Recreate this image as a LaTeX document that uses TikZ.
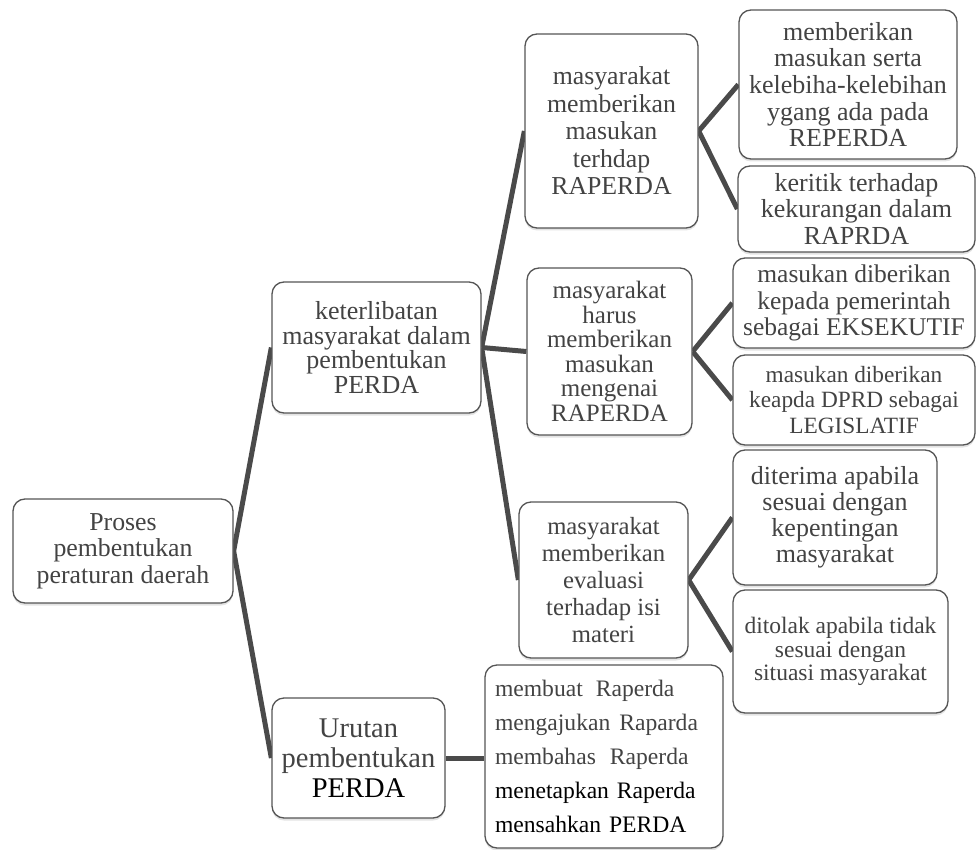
\documentclass[tikz,border=0pt]{standalone}
\usepackage{fontspec}
\setmainfont{Liberation Serif}
\usetikzlibrary{shadows,backgrounds}
\definecolor{txt}{HTML}{434343}
\definecolor{edgec}{HTML}{555555}
\definecolor{connc}{HTML}{4A4A4A}
\begin{document}
\begin{tikzpicture}[x=1pt,y=-1pt,
  box/.style={draw=edgec, line width=1.3pt, rounded corners=12pt, fill=white,
    align=center, inner sep=0pt, text=txt,
    drop shadow={shadow xshift=0pt, shadow yshift=-2.5pt, opacity=0.22}},
  connector/.style={draw=connc, line width=5pt},
  fs/.style 2 args={font=\fontsize{#1}{#2}\selectfont},
]
\useasboundingbox (0,0) rectangle (976,850);

% level 0
\node[box, fs={25.8}{26.7}, minimum width=220pt, minimum height=104pt] (proses) at (123,551)
  {Proses\\pembentukan\\peraturan daerah};

% level 1
\node[box, fs={26}{24.5}, minimum width=209pt, minimum height=131pt] (ket) at (376.5,347.5)
  {keterlibatan\\masyarakat dalam\\pembentukan\\PERDA};
\node[box, fs={28.5}{30}, minimum width=173pt, minimum height=120pt] (urut) at (358.5,758)
  {Urutan\\pembentukan\\\textcolor{black}{PERDA}};

% level 2
\node[box, fs={25.8}{27.5}, minimum width=173pt, minimum height=194pt] (mm) at (611.5,131)
  {masyarakat\\memberikan\\masukan\\terhdap\\RAPERDA};
\node[box, fs={25}{24.5}, minimum width=165pt, minimum height=167pt] (mh) at (609.5,351.5)
  {masyarakat\\harus\\memberikan\\masukan\\mengenai\\RAPERDA};
\node[box, fs={24.7}{27}, minimum width=169pt, minimum height=156pt] (me) at (603.5,580)
  {masyarakat\\memberikan\\evaluasi\\terhadap isi\\materi};
\node[box, fs={23.6}{34}, align=left, text width=218pt, inner xsep=10pt, minimum height=183pt] (list) at (604,756.5)
  {membuat\hspace{13pt}Raperda\\mengajukan\hspace{9pt}Raparda\\membahas\hspace{14pt}Raperda\\\textcolor{black}{menetapkan Raperda}\\\textcolor{black}{mensahkan PERDA}};

% level 3
\node[box, fs={26}{26.7}, minimum width=218pt, minimum height=149pt] (ra) at (848,84.5)
  {memberikan\\masukan serta\\kelebiha-kelebihan\\ygang ada pada\\REPERDA};
\node[box, fs={26}{26.7}, minimum width=237pt, minimum height=86pt] (rb) at (856.5,209)
  {keritik terhadap\\kekurangan dalam\\RAPRDA};
\node[box, fs={25.5}{26.5}, minimum width=242pt, minimum height=90pt] (rc) at (854,303)
  {masukan diberikan\\kepada pemerintah\\sebagai EKSEKUTIF};
\node[box, fs={23.3}{25.5}, minimum width=242pt, minimum height=90pt] (rd) at (854,400)
  {masukan diberikan\\keapda DPRD sebagai\\LEGISLATIF};
\node[box, fs={26}{26}, minimum width=204pt, minimum height=135pt] (re) at (835,517.5)
  {diterima apabila\\sesuai dengan\\kepentingan\\masyarakat};
\node[box, fs={23.5}{23.5}, minimum width=215pt, minimum height=123pt] (rf) at (840.5,651.5)
  {ditolak apabila tidak\\sesuai dengan\\situasi masyarakat};

\begin{pgfonlayer}{background}
  \fill[white] (0,0) rectangle (976,850);
  \draw[connector] (proses.east) -- (ket.west);
  \draw[connector] (proses.east) -- (urut.west);
  \draw[connector] (ket.east) -- (mm.west);
  \draw[connector] (ket.east) -- (mh.west);
  \draw[connector] (ket.east) -- (me.west);
  \draw[connector] (urut.east) -- (urut.east -| list.west);
  \draw[connector] (mm.east) -- (ra.west);
  \draw[connector] (mm.east) -- (rb.west);
  \draw[connector] (mh.east) -- (rc.west);
  \draw[connector] (mh.east) -- (rd.west);
  \draw[connector] (me.east) -- (re.west);
  \draw[connector] (me.east) -- (rf.west);
\end{pgfonlayer}
\end{tikzpicture}
\end{document}
